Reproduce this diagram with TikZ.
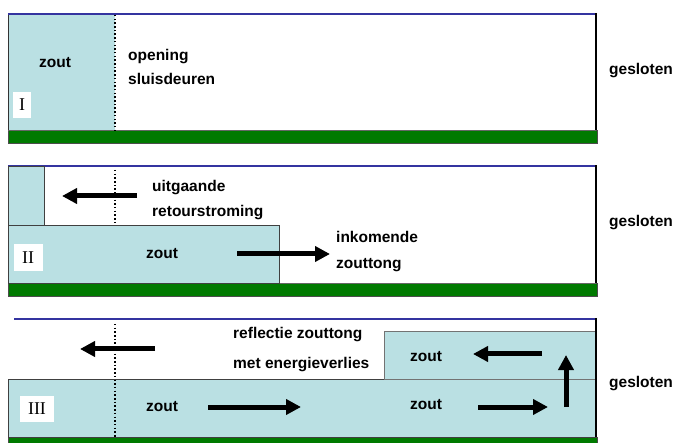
\documentclass[tikz,border=0pt]{standalone}
\usepackage{fontspec}
\setmainfont{Liberation Sans}
\newfontfamily\romfont{Liberation Serif}
\usetikzlibrary{arrows.meta}

\definecolor{salt}{RGB}{186,224,227}
\definecolor{seabed}{RGB}{0,122,0}
\definecolor{surface}{RGB}{52,52,160}

\tikzset{
  txt/.style={anchor=base west, inner sep=0pt, font=\bfseries\fontsize{15.5}{16}\selectfont},
  numbox/.style={fill=white, inner sep=0pt, font=\romfont\fontsize{18}{18}\selectfont},
  flow/.style={line width=5pt, -{Triangle[length=15pt,width=15pt]}},
  door/.style={line width=1.5pt, dash pattern=on 1.5pt off 2.2pt},
  saltbox/.style={fill=salt, draw=black!75, line width=0.6pt},
}

\begin{document}
\begin{tikzpicture}[x=1pt,y=-1pt]
    \useasboundingbox (0,0) rectangle (677,443);

    % Panel I
    \fill[seabed, draw=black!70] (8,130) rectangle (597,143);
    \fill[salt] (8,14) rectangle (115,130);
    \draw[black!60, line width=0.8pt] (8,130) -- (596,130);
    \draw[black!80] (8,130) -- (8,14);
    \draw[surface, line width=1.6pt] (8,14) -- (596,14);
    \draw[line width=1.6pt] (596,13.5) -- (596,130);
    \draw[door] (115,15) -- (115,130);
    \node[txt] (zoutA) at (39,68) {zout};
    \node[txt] (opening) at (128,61) {opening};
    \node[txt] (sluis) at (128,85) {sluisdeuren};
    \node[numbox, minimum width=18pt, minimum height=26pt] (numA) at (22,105) {I};
    \node[txt] (geslotenA) at (609,75) {gesloten};

    % Panel II
    \fill[seabed, draw=black!70] (8,283) rectangle (597,296);
    \draw[surface, line width=1.6pt] (8,166) -- (596,166);
    \draw[line width=1.6pt] (596,165.5) -- (596,283);
    \draw[black!60, line width=0.8pt] (8,283) -- (596,283);
    \draw[saltbox] (8,166) rectangle (44,225);
    \draw[saltbox] (8,225) rectangle (279,283);
    \draw[door] (115,170) -- (115,223);
    \node[txt] (uitgaande) at (152,192) {uitgaande};
    \node[txt] (retour) at (152,217) {retourstroming};
    \node[txt] (zoutB) at (146,259) {zout};
    \node[txt] (inkomende) at (336,243) {inkomende};
    \node[txt] (tong) at (336,269) {zouttong};
    \node[numbox, minimum width=29pt, minimum height=27pt] (numB) at (28,258) {II};
    \node[txt] (geslotenB) at (609,227) {gesloten};
    \coordinate (retourA) at (137,196);
    \coordinate (retourB) at (62,196);
    \coordinate (tongA) at (237,254);
    \coordinate (tongB) at (330,254);
    \draw[flow] (retourA) -- (retourB);
    \draw[flow] (tongA) -- (tongB);

    % Panel III
    \fill[seabed, draw=black!70] (8,437) rectangle (597,445);
    \draw[surface, line width=1.6pt] (14,319) -- (596,319);
    \draw[saltbox] (8,379) rectangle (596,437);
    \draw[saltbox, draw=black!55] (384,331) rectangle (596,379);
    \draw[line width=1.6pt] (596,318.5) -- (596,437);
    \draw[door] (115,324) -- (115,437);
    \node[txt] (reflectie) at (233,338) {reflectie zouttong};
    \node[txt] (verlies) at (233,368) {met energieverlies};
    \node[txt] (zoutC) at (146,411) {zout};
    \node[txt] (zoutD) at (410,409) {zout};
    \node[txt] (zoutE) at (410,362) {zout};
    \node[numbox, minimum width=34pt, minimum height=26pt] (numC) at (37,409) {III};
    \node[txt] (geslotenC) at (609,387) {gesloten};
    \coordinate (backA) at (155,349);
    \coordinate (backB) at (80,349);
    \coordinate (inA) at (208,407);
    \coordinate (inB) at (301,407);
    \coordinate (wallA) at (478,407);
    \coordinate (wallB) at (548,407);
    \coordinate (upA) at (566,407);
    \coordinate (upB) at (566,355);
    \coordinate (topA) at (542,354);
    \coordinate (topB) at (473,354);
    \draw[flow] (backA) -- (backB);
    \draw[flow] (inA) -- (inB);
    \draw[flow] (wallA) -- (wallB);
    \draw[flow] (upA) -- (upB);
    \draw[flow] (topA) -- (topB);
\end{tikzpicture}
\end{document}
